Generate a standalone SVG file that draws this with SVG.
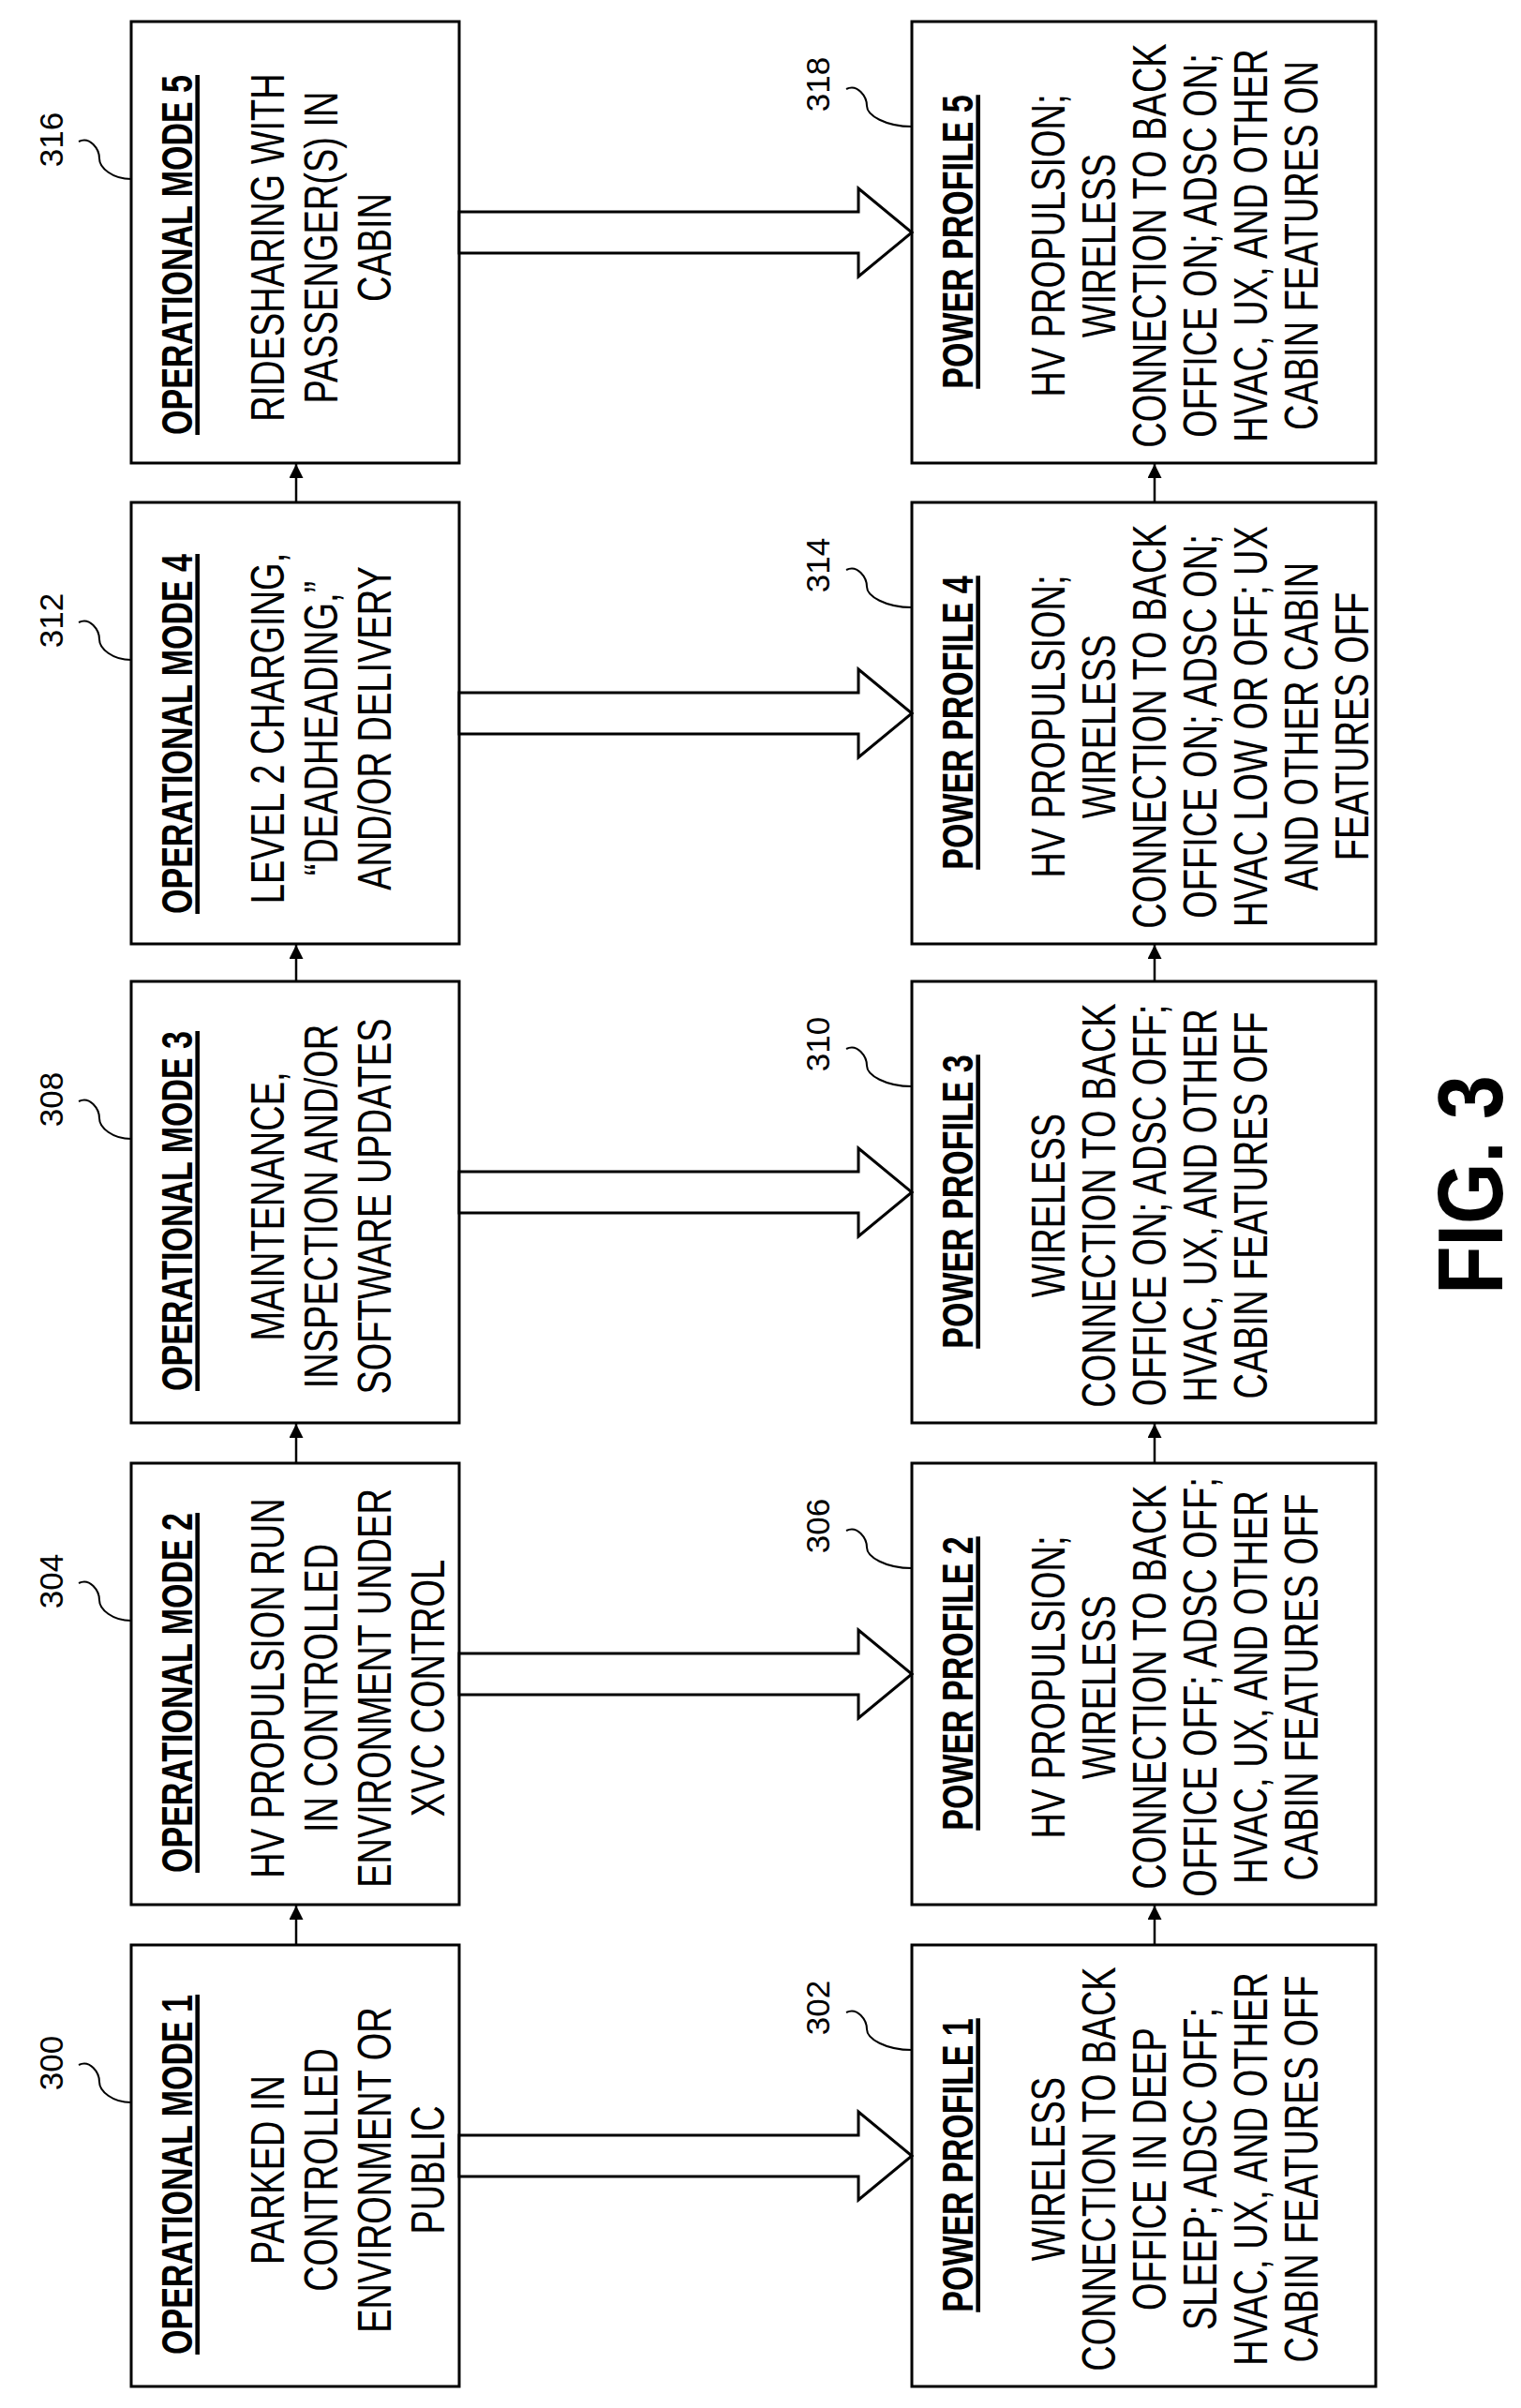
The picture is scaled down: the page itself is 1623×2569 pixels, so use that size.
<svg xmlns="http://www.w3.org/2000/svg" width="1623" height="2569" viewBox="0 0 1623 2569">
<style>
.box{fill:#fff;stroke:#000;stroke-width:3}
.t{font-family:"Liberation Sans",Arial,sans-serif;text-anchor:middle;fill:#000}
.ti{font-size:34px;font-weight:bold;text-decoration:underline}
.b{font-size:38px}
.lb{font-size:35px}
.fig{font-size:84px;font-weight:bold}
.lead{fill:none;stroke:#000;stroke-width:2}
.big{fill:#fff;stroke:#000;stroke-width:3;stroke-linejoin:miter}
.sm{stroke:#000;stroke-width:2.5;fill:none}
</style>
<defs>
<marker id="ah" viewBox="0 0 10 10" refX="10" refY="5" markerWidth="6" markerHeight="6" markerUnits="strokeWidth" orient="auto">
<path d="M0,0 L10,5 L0,10 z" fill="#000"/>
</marker>
</defs>
<rect width="1623" height="2569" fill="#fff"/>

<g id="mode1">
<rect class="box" x="140" y="2075" width="350" height="471"/>
<text class="t ti" transform="translate(205,2320) rotate(-90) scale(1,1.35)">OPERATIONAL MODE 1</text>
<text class="t b" transform="translate(303,2315) rotate(-90) scale(1,1.3)">PARKED IN</text>
<text class="t b" transform="translate(360,2315) rotate(-90) scale(1,1.3)">CONTROLLED</text>
<text class="t b" transform="translate(417,2315) rotate(-90) scale(1,1.3)">ENVIRONMENT OR</text>
<text class="t b" transform="translate(474,2315) rotate(-90) scale(1,1.3)">PUBLIC</text>
<text class="t lb" transform="translate(67,2201) rotate(-90)">300</text>
<path class="lead" d="M84,2203 c12,-6 22,8 22,18 s14,22 34,22"/>
</g>

<g id="mode2">
<rect class="box" x="140" y="1561" width="350" height="471"/>
<text class="t ti" transform="translate(205,1806) rotate(-90) scale(1,1.35)">OPERATIONAL MODE 2</text>
<text class="t b" transform="translate(303,1801) rotate(-90) scale(1,1.3)">HV PROPULSION RUN</text>
<text class="t b" transform="translate(360,1801) rotate(-90) scale(1,1.3)">IN CONTROLLED</text>
<text class="t b" transform="translate(417,1801) rotate(-90) scale(1,1.3)">ENVIRONMENT UNDER</text>
<text class="t b" transform="translate(474,1801) rotate(-90) scale(1,1.3)">XVC CONTROL</text>
<text class="t lb" transform="translate(67,1687) rotate(-90)">304</text>
<path class="lead" d="M84,1689 c12,-6 22,8 22,18 s14,22 34,22"/>
</g>

<g id="mode3">
<rect class="box" x="140" y="1047" width="350" height="471"/>
<text class="t ti" transform="translate(205,1292) rotate(-90) scale(1,1.35)">OPERATIONAL MODE 3</text>
<text class="t b" transform="translate(303,1287) rotate(-90) scale(1,1.3)">MAINTENANCE,</text>
<text class="t b" transform="translate(360,1287) rotate(-90) scale(1,1.3)">INSPECTION AND/OR</text>
<text class="t b" transform="translate(417,1287) rotate(-90) scale(1,1.3)">SOFTWARE UPDATES</text>
<text class="t lb" transform="translate(67,1173) rotate(-90)">308</text>
<path class="lead" d="M84,1175 c12,-6 22,8 22,18 s14,22 34,22"/>
</g>

<g id="mode4">
<rect class="box" x="140" y="536" width="350" height="471"/>
<text class="t ti" transform="translate(205,783) rotate(-90) scale(1,1.35)">OPERATIONAL MODE 4</text>
<text class="t b" transform="translate(303,777) rotate(-90) scale(1,1.3)">LEVEL 2 CHARGING,</text>
<text class="t b" transform="translate(360,777) rotate(-90) scale(1,1.3)">“DEADHEADING,”</text>
<text class="t b" transform="translate(417,777) rotate(-90) scale(1,1.3)">AND/OR DELIVERY</text>
<text class="t lb" transform="translate(67,662) rotate(-90)">312</text>
<path class="lead" d="M84,664 c12,-6 22,8 22,18 s14,22 34,22"/>
</g>

<g id="mode5">
<rect class="box" x="140" y="23" width="350" height="471"/>
<text class="t ti" transform="translate(205,272) rotate(-90) scale(1,1.35)">OPERATIONAL MODE 5</text>
<text class="t b" transform="translate(303,264) rotate(-90) scale(1,1.3)">RIDESHARING WITH</text>
<text class="t b" transform="translate(360,264) rotate(-90) scale(1,1.3)">PASSENGER(S) IN</text>
<text class="t b" transform="translate(417,264) rotate(-90) scale(1,1.3)">CABIN</text>
<text class="t lb" transform="translate(67,149) rotate(-90)">316</text>
<path class="lead" d="M84,151 c12,-6 22,8 22,18 s14,22 34,22"/>
</g>

<g id="power1">
<rect class="box" x="973" y="2075" width="495" height="471"/>
<text class="t ti" transform="translate(1038,2310) rotate(-90) scale(1,1.35)">POWER PROFILE 1</text>
<text class="t b" transform="translate(1136,2314) rotate(-90) scale(1,1.3)">WIRELESS</text>
<text class="t b" transform="translate(1190,2314) rotate(-90) scale(1,1.3)">CONNECTION TO BACK</text>
<text class="t b" transform="translate(1244,2314) rotate(-90) scale(1,1.3)">OFFICE IN DEEP</text>
<text class="t b" transform="translate(1298,2314) rotate(-90) scale(1,1.3)">SLEEP; ADSC OFF;</text>
<text class="t b" transform="translate(1352,2314) rotate(-90) scale(1,1.3)">HVAC, UX, AND OTHER</text>
<text class="t b" transform="translate(1406,2314) rotate(-90) scale(1,1.3)">CABIN FEATURES OFF</text>
<text class="t lb" transform="translate(885,2142) rotate(-90)">302</text>
<path class="lead" d="M903,2147 c12,-6 22,8 22,18 s20,22 48,22"/>
</g>

<g id="power2">
<rect class="box" x="973" y="1561" width="495" height="471"/>
<text class="t ti" transform="translate(1038,1796) rotate(-90) scale(1,1.35)">POWER PROFILE 2</text>
<text class="t b" transform="translate(1136,1800) rotate(-90) scale(1,1.3)">HV PROPULSION;</text>
<text class="t b" transform="translate(1190,1800) rotate(-90) scale(1,1.3)">WIRELESS</text>
<text class="t b" transform="translate(1244,1800) rotate(-90) scale(1,1.3)">CONNECTION TO BACK</text>
<text class="t b" transform="translate(1298,1800) rotate(-90) scale(1,1.3)">OFFICE OFF; ADSC OFF;</text>
<text class="t b" transform="translate(1352,1800) rotate(-90) scale(1,1.3)">HVAC, UX, AND OTHER</text>
<text class="t b" transform="translate(1406,1800) rotate(-90) scale(1,1.3)">CABIN FEATURES OFF</text>
<text class="t lb" transform="translate(885,1628) rotate(-90)">306</text>
<path class="lead" d="M903,1633 c12,-6 22,8 22,18 s20,22 48,22"/>
</g>

<g id="power3">
<rect class="box" x="973" y="1047" width="495" height="471"/>
<text class="t ti" transform="translate(1038,1282) rotate(-90) scale(1,1.35)">POWER PROFILE 3</text>
<text class="t b" transform="translate(1136,1286) rotate(-90) scale(1,1.3)">WIRELESS</text>
<text class="t b" transform="translate(1190,1286) rotate(-90) scale(1,1.3)">CONNECTION TO BACK</text>
<text class="t b" transform="translate(1244,1286) rotate(-90) scale(1,1.3)">OFFICE ON; ADSC OFF;</text>
<text class="t b" transform="translate(1298,1286) rotate(-90) scale(1,1.3)">HVAC, UX, AND OTHER</text>
<text class="t b" transform="translate(1352,1286) rotate(-90) scale(1,1.3)">CABIN FEATURES OFF</text>
<text class="t lb" transform="translate(885,1114) rotate(-90)">310</text>
<path class="lead" d="M903,1119 c12,-6 22,8 22,18 s20,22 48,22"/>
</g>

<g id="power4">
<rect class="box" x="973" y="536" width="495" height="471"/>
<text class="t ti" transform="translate(1038,771) rotate(-90) scale(1,1.35)">POWER PROFILE 4</text>
<text class="t b" transform="translate(1136,775) rotate(-90) scale(1,1.3)">HV PROPULSION;</text>
<text class="t b" transform="translate(1190,775) rotate(-90) scale(1,1.3)">WIRELESS</text>
<text class="t b" transform="translate(1244,775) rotate(-90) scale(1,1.3)">CONNECTION TO BACK</text>
<text class="t b" transform="translate(1298,775) rotate(-90) scale(1,1.3)">OFFICE ON; ADSC ON;</text>
<text class="t b" transform="translate(1352,775) rotate(-90) scale(1,1.3)">HVAC LOW OR OFF; UX</text>
<text class="t b" transform="translate(1406,775) rotate(-90) scale(1,1.3)">AND OTHER CABIN</text>
<text class="t b" transform="translate(1460,775) rotate(-90) scale(1,1.3)">FEATURES OFF</text>
<text class="t lb" transform="translate(885,603) rotate(-90)">314</text>
<path class="lead" d="M903,608 c12,-6 22,8 22,18 s20,22 48,22"/>
</g>

<g id="power5">
<rect class="box" x="973" y="23" width="495" height="471"/>
<text class="t ti" transform="translate(1038,258) rotate(-90) scale(1,1.35)">POWER PROFILE 5</text>
<text class="t b" transform="translate(1136,262) rotate(-90) scale(1,1.3)">HV PROPULSION;</text>
<text class="t b" transform="translate(1190,262) rotate(-90) scale(1,1.3)">WIRELESS</text>
<text class="t b" transform="translate(1244,262) rotate(-90) scale(1,1.3)">CONNECTION TO BACK</text>
<text class="t b" transform="translate(1298,262) rotate(-90) scale(1,1.3)">OFFICE ON; ADSC ON;</text>
<text class="t b" transform="translate(1352,262) rotate(-90) scale(1,1.3)">HVAC, UX, AND OTHER</text>
<text class="t b" transform="translate(1406,262) rotate(-90) scale(1,1.3)">CABIN FEATURES ON</text>
<text class="t lb" transform="translate(885,90) rotate(-90)">318</text>
<path class="lead" d="M903,95 c12,-6 22,8 22,18 s20,22 48,22"/>
</g>

<g id="connectors">
<line class="sm" x1="316" y1="2075" x2="316" y2="2033" marker-end="url(#ah)"/>
<line class="sm" x1="316" y1="1561" x2="316" y2="1519" marker-end="url(#ah)"/>
<line class="sm" x1="316" y1="1047" x2="316" y2="1008" marker-end="url(#ah)"/>
<line class="sm" x1="316" y1="536" x2="316" y2="495" marker-end="url(#ah)"/>
<line class="sm" x1="1232" y1="2075" x2="1232" y2="2033" marker-end="url(#ah)"/>
<line class="sm" x1="1232" y1="1561" x2="1232" y2="1519" marker-end="url(#ah)"/>
<line class="sm" x1="1232" y1="1047" x2="1232" y2="1008" marker-end="url(#ah)"/>
<line class="sm" x1="1232" y1="536" x2="1232" y2="495" marker-end="url(#ah)"/>
<polygon class="big" points="490,2278 916,2278 916,2253 973,2300 916,2347 916,2322 490,2322"/>
<polygon class="big" points="490,1764 916,1764 916,1739 973,1786 916,1833 916,1808 490,1808"/>
<polygon class="big" points="490,1250 916,1250 916,1225 973,1272 916,1319 916,1294 490,1294"/>
<polygon class="big" points="490,739 916,739 916,714 973,761 916,808 916,783 490,783"/>
<polygon class="big" points="490,226 916,226 916,201 973,248 916,295 916,270 490,270"/>
</g>

<text class="t fig" transform="translate(1603,1264) rotate(-90) scale(1,1.17)">FIG. 3</text>
</svg>
